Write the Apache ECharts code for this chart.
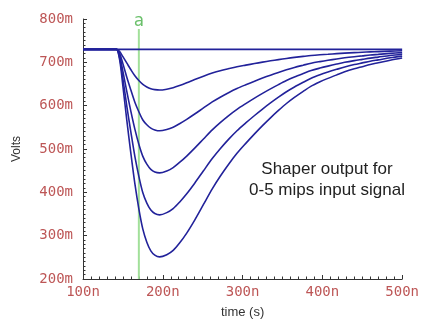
<!DOCTYPE html>
<html>
<head>
<meta charset="utf-8">
<script src="https://cdn.jsdelivr.net/npm/echarts@6/dist/echarts.min.js"></script>
<style>
  html, body { margin: 0; padding: 0; background: #ffffff; }
  #chart { width: 422px; height: 324px; }
</style>
</head>
<body>
<div id="chart"></div>
<script>
// Sample times (ns) for the shaper traces
const times = [100, 140, 142, 146, 150, 155, 160, 165, 170, 175, 180, 185, 190, 196,
               205, 213, 221, 230, 240, 251, 262, 272, 283, 293,
               304, 315, 325, 335, 345, 355, 365, 376, 386, 397,
               407, 418, 428, 440, 450, 460, 470, 485, 500];

// Shaper output (mV) for 1..5 mips
const out1mip = [730, 730, 730, 725, 713, 698, 683, 669, 658, 649, 643, 639, 637, 636,
                 638, 641.4, 646.4, 652.8, 660.3, 668.1, 675.3, 680.8, 685.6, 689.7,
                 693.5, 697.2, 700.4, 703.5, 706.3, 709, 711.4, 713.7, 715.7, 717.4,
                 718.7, 720.1, 721.3, 722.4, 723.3, 724.1, 724.8, 725.8, 726.6];
const out2mip = [730, 730, 730, 720, 697, 665, 636, 608, 586, 567, 556, 548, 544, 542,
                 545.1, 550.4, 558.4, 568.5, 580.7, 594.7, 608.6, 619.5, 630.5, 639.5,
                 648.2, 656.5, 663.6, 670.4, 676.8, 682.9, 688.2, 693.4, 698, 701.7,
                 704.7, 707.8, 710.4, 713, 714.9, 716.8, 718.3, 720.6, 722.5];
const out3mip = [730, 730, 730, 715, 679, 632, 587, 546, 511, 483, 465, 453, 447, 445,
                 449.4, 457.2, 469, 483.7, 501.9, 523.1, 544.2, 560.9, 577.7, 591.5,
                 604.8, 617.5, 628.4, 638.8, 648.6, 657.9, 666, 674, 681, 686.7,
                 691.3, 696, 700, 704, 706.9, 709.8, 712.1, 715.6, 718.5];
const out4mip = [730, 730, 730, 710, 662, 598, 539, 483, 437, 399, 375, 359, 351, 348,
                 353.2, 362.5, 377.3, 396.7, 421.1, 449.7, 477.9, 500.6, 523.3, 542.1,
                 560.1, 577.3, 592.2, 606.3, 619.6, 632.1, 643.1, 654, 663.4, 671.3,
                 677.5, 683.8, 689.3, 694.8, 698.7, 702.6, 705.7, 710.4, 714.3];
const out5mip = [730, 730, 730, 705, 645, 565, 490, 420, 362, 315, 285, 265, 255, 251,
                 256, 266, 283, 306, 336, 372, 408, 437, 466, 490,
                 513, 535, 554, 572, 589, 605, 619, 633, 645, 655,
                 663, 671, 678, 685, 690, 695, 699, 705, 710];

// 0 mips: flat baseline
const baseTimes = [100, 500];
const out0mip = [730, 730];

// Cursor "a"
const cursorTime = 170;
const cursorSpan = [200, 777];
const cursorName = 'a';

// Tick labels
const xTickLabels = ['100n', '200n', '300n', '400n', '500n'];
const yTickLabels = ['200m', '300m', '400m', '500m', '600m', '700m', '800m'];

const traceColor = '#22229a';
const labelColor = '#bd5656';

function pairs(xs, ys) { return xs.map((x, i) => [x, ys[i]]); }

const traces = [out0mip, out1mip, out2mip, out3mip, out4mip, out5mip];

const chart = echarts.init(document.getElementById('chart'), null, { renderer: 'canvas' });

const series = [
  {
    type: 'line',
    data: [[cursorTime, cursorSpan[0]], [cursorTime, cursorSpan[1]]],
    symbol: 'none',
    lineStyle: { color: '#a2e09a', width: 2 },
    silent: true,
    z: 1
  },
  {
    type: 'scatter',
    data: [[cursorTime, cursorSpan[1]]],
    symbolSize: 1,
    itemStyle: { color: 'transparent' },
    label: {
      show: true,
      formatter: cursorName,
      position: 'top',
      distance: -2,
      color: '#46b046',
      fontFamily: 'DejaVu Sans Mono',
      fontSize: 17
    },
    silent: true,
    z: 1
  }
];

traces.forEach((vals, i) => {
  series.push({
    type: 'line',
    data: i === 0 ? pairs(baseTimes, vals) : pairs(times, vals),
    symbol: 'none',
    smooth: 0.3,
    lineStyle: { color: traceColor, width: 1.6 },
    silent: true,
    z: 3
  });
});

chart.setOption({
  animation: false,
  backgroundColor: '#ffffff',
  grid: { left: 83, right: 18, top: 19, bottom: 41 },
  xAxis: {
    type: 'value',
    min: 100, max: 500, interval: 100,
    name: 'time (s)',
    nameLocation: 'middle',
    nameGap: 27,
    nameTextStyle: { color: '#333333', fontFamily: 'Liberation Sans', fontSize: 13 },
    axisLine: { show: true, lineStyle: { color: '#333333', width: 1 } },
    axisTick: { show: true, inside: true, length: 4, lineStyle: { color: '#333333' } },
    minorTick: { show: true, splitNumber: 10, length: 2.5, lineStyle: { color: '#333333' } },
    splitLine: { show: false },
    axisLabel: {
      color: labelColor, fontFamily: 'DejaVu Sans Mono', fontSize: 14, margin: 6,
      formatter: v => xTickLabels[Math.round((v - 100) / 100)]
    }
  },
  yAxis: {
    type: 'value',
    min: 200, max: 800, interval: 100,
    name: 'Volts',
    nameLocation: 'middle',
    nameRotate: 90,
    nameGap: 60,
    nameTextStyle: { color: '#333333', fontFamily: 'Liberation Sans', fontSize: 12 },
    axisLine: { show: true, lineStyle: { color: '#333333', width: 1 } },
    axisTick: { show: true, inside: true, length: 4, lineStyle: { color: '#333333' } },
    minorTick: { show: true, splitNumber: 10, length: 2.5, lineStyle: { color: '#333333' } },
    splitLine: { show: false },
    axisLabel: {
      color: labelColor, fontFamily: 'DejaVu Sans Mono', fontSize: 14, margin: 10,
      padding: [0, 0, 6, 0],
      formatter: v => yTickLabels[Math.round((v - 200) / 100)]
    }
  },
  graphic: [{
    type: 'text',
    x: 327, y: 180,
    silent: true,
    style: {
      text: 'Shaper output for\n0-5 mips input signal',
      align: 'center',
      verticalAlign: 'middle',
      fill: '#222222',
      font: '17px "Liberation Sans"',
      lineHeight: 21
    }
  }],
  series: series
});
</script>
</body>
</html>
